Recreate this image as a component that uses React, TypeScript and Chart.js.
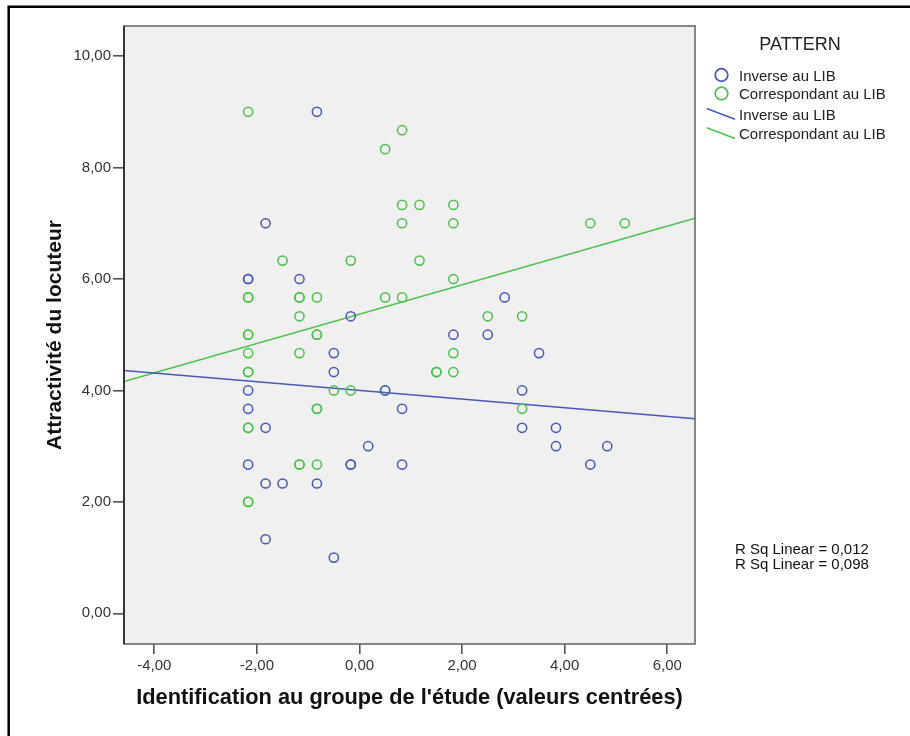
import React, { useEffect, useRef } from 'react';
import { Chart, registerables } from 'chart.js';

Chart.register(...registerables);

// ---- data ----
const inverseX = [
  -0.83, -1.83, -2.17, -2.17, -1.17, -0.17, 2.83, 1.83, 2.5, -0.5, 3.5, -0.5,
  -2.17, 0.5, 3.17, -2.17, 0.83, -1.83, 3.17, 3.83, 0.17, 3.83, 4.83, -2.17,
  -0.17, -0.17, 0.83, 4.5, -1.83, -1.5, -0.83, -1.83, -0.5,
];
const inverseY = [
  9.0, 7.0, 6.0, 6.0, 6.0, 5.33, 5.67, 5.0, 5.0, 4.67, 4.67, 4.33,
  4.0, 4.0, 4.0, 3.67, 3.67, 3.33, 3.33, 3.33, 3.0, 3.0, 3.0, 2.67,
  2.67, 2.67, 2.67, 2.67, 2.33, 2.33, 2.33, 1.33, 1.0,
];
const correspondantX = [
  -2.17, 0.83, 0.5, 0.83, 1.17, 1.83, 0.83, 1.83, 4.5, 5.17, -1.5, -0.17,
  1.17, 1.83, -2.17, -2.17, -1.17, -1.17, -0.83, 0.5, 0.83, -1.17, 2.5, 3.17,
  -2.17, -2.17, -0.83, -0.83, -2.17, -1.17, 1.83, -2.17, -2.17, 1.5, 1.5, 1.83,
  -0.5, -0.17, 0.5, -0.83, -0.83, 3.17, -2.17, -2.17, -1.17, -1.17, -0.83, -2.17,
  -2.17,
];
const correspondantY = [
  9.0, 8.67, 8.33, 7.33, 7.33, 7.33, 7.0, 7.0, 7.0, 7.0, 6.33, 6.33,
  6.33, 6.0, 5.67, 5.67, 5.67, 5.67, 5.67, 5.67, 5.67, 5.33, 5.33, 5.33,
  5.0, 5.0, 5.0, 5.0, 4.67, 4.67, 4.67, 4.33, 4.33, 4.33, 4.33, 4.33,
  4.0, 4.0, 4.0, 3.67, 3.67, 3.67, 3.33, 3.33, 2.67, 2.67, 2.67, 2.0,
  2.0,
];
// fit lines: values at the two ends of the x axis
const fitX = [-4.59, 6.54];
const fitInverseY = [4.36, 3.49];
const fitCorrespondantY = [4.16, 7.09];

const xTicks = [-4, -2, 0, 2, 4, 6];
const yTicks = [0, 2, 4, 6, 8, 10];

const legendTitle = 'PATTERN';
const legendLabels = ['Inverse au LIB', 'Correspondant au LIB'];
const rSquared = ['0,012', '0,098'];
const xTitle = "Identification au groupe de l'étude (valeurs centrées)";
const yTitle = 'Attractivité du locuteur';

const BLUE = 'rgb(72, 88, 182)';
const GREEN = 'rgb(76, 192, 76)';
const FONT = '"Liberation Sans", Arial, sans-serif';

const fmt = (v: number) => v.toFixed(2).replace('.', ',');

const decorPlugin = {
  id: 'decor',
  beforeDatasetsDraw(chart: any) {
    const { ctx, chartArea: a } = chart;
    ctx.save();
    ctx.fillStyle = '#F0F0F0';
    ctx.fillRect(a.left, a.top, a.right - a.left, a.bottom - a.top);
    ctx.restore();
  },
  afterDraw(chart: any) {
    const { ctx, chartArea: a } = chart;
    ctx.save();
    // plot border
    ctx.strokeStyle = '#6a6a6a';
    ctx.lineWidth = 1.6;
    ctx.strokeRect(a.left, a.top, a.right - a.left, a.bottom - a.top);
    ctx.strokeStyle = '#222';
    ctx.beginPath();
    ctx.moveTo(a.left, a.top);
    ctx.lineTo(a.left, a.bottom);
    ctx.stroke();

    // outer frame
    ctx.strokeStyle = '#000';
    ctx.lineWidth = 2.5;
    ctx.beginPath();
    ctx.moveTo(8.7, 740);
    ctx.lineTo(8.7, 6.7);
    ctx.lineTo(914, 6.7);
    ctx.stroke();

    // legend
    ctx.fillStyle = '#222';
    ctx.textBaseline = 'middle';
    ctx.textAlign = 'center';
    ctx.font = `18px ${FONT}`;
    ctx.fillText(legendTitle, 800, 45);

    ctx.textAlign = 'left';
    ctx.font = `15px ${FONT}`;
    const circles = [
      { c: BLUE, y: 75 },
      { c: GREEN, y: 93.5 },
    ];
    circles.forEach((it, i) => {
      ctx.strokeStyle = it.c;
      ctx.lineWidth = 1.7;
      ctx.beginPath();
      ctx.arc(721.5, it.y, 6.3, 0, Math.PI * 2);
      ctx.stroke();
      ctx.fillStyle = '#222';
      ctx.fillText(legendLabels[i], 739, it.y + 1.5);
    });
    const lines = [
      { c: BLUE, y: 108.5 },
      { c: GREEN, y: 127.7 },
    ];
    lines.forEach((it, i) => {
      ctx.strokeStyle = it.c;
      ctx.lineWidth = 1.5;
      ctx.beginPath();
      ctx.moveTo(706.7, it.y);
      ctx.lineTo(735, it.y + 10.8);
      ctx.stroke();
      ctx.fillStyle = '#222';
      ctx.fillText(legendLabels[i], 739, it.y + 7.5);
    });

    // R squared
    ctx.fillStyle = '#111';
    ctx.font = `15px ${FONT}`;
    rSquared.forEach((r, i) => {
      ctx.fillText(`R Sq Linear = ${r}`, 735, 550 + i * 14.5);
    });
    ctx.restore();
  },
};

export default function App() {
  const ref = useRef<HTMLCanvasElement>(null);
  useEffect(() => {
    const canvas = ref.current;
    if (!canvas) return;
    const chart = new Chart(canvas, {
      type: 'scatter',
      data: {
        datasets: [
          {
            label: legendLabels[0],
            data: inverseX.map((x, i) => ({ x, y: inverseY[i] })),
            borderColor: BLUE,
            backgroundColor: 'transparent',
            pointRadius: 4.6,
            pointBorderWidth: 1.5,
            showLine: false,
          },
          {
            label: legendLabels[1],
            data: correspondantX.map((x, i) => ({ x, y: correspondantY[i] })),
            borderColor: GREEN,
            backgroundColor: 'transparent',
            pointRadius: 4.6,
            pointBorderWidth: 1.5,
            showLine: false,
          },
          {
            label: legendLabels[0] + ' fit',
            data: fitX.map((x, i) => ({ x, y: fitInverseY[i] })),
            borderColor: BLUE,
            backgroundColor: BLUE,
            borderWidth: 1.5,
            pointRadius: 0,
            showLine: true,
          },
          {
            label: legendLabels[1] + ' fit',
            data: fitX.map((x, i) => ({ x, y: fitCorrespondantY[i] })),
            borderColor: GREEN,
            backgroundColor: GREEN,
            borderWidth: 1.5,
            pointRadius: 0,
            showLine: true,
          },
        ],
      },
      options: {
        responsive: false,
        animation: false,
        events: [],
        layout: { padding: { left: 0, top: 26, right: 215, bottom: 0 } },
        plugins: { legend: { display: false }, tooltip: { enabled: false } },
        scales: {
          x: {
            type: 'linear',
            min: fitX[0],
            max: fitX[1],
            afterBuildTicks: (s: any) => {
              s.ticks = xTicks.map((v) => ({ value: v }));
            },
            afterFit: (s: any) => {
              s.height = 92;
            },
            ticks: {
              callback: (v: any) => fmt(Number(v)),
              color: '#333',
              font: { family: FONT, size: 15 },
              padding: 3,
              maxRotation: 0,
            },
            grid: {
              drawOnChartArea: false,
              drawTicks: true,
              tickLength: 10,
              color: '#555',
              lineWidth: 1.6,
            },
            border: { display: false },
            title: {
              display: true,
              text: xTitle,
              color: '#111',
              font: { family: FONT, size: 21.8, weight: 'bold' },
              padding: { top: 0, bottom: 25 },
            },
          },
          y: {
            type: 'linear',
            min: -0.55,
            max: 10.54,
            afterBuildTicks: (s: any) => {
              s.ticks = yTicks.map((v) => ({ value: v }));
            },
            afterFit: (s: any) => {
              s.width = 124;
            },
            ticks: {
              callback: (v: any) => fmt(Number(v)),
              color: '#333',
              font: { family: FONT, size: 15 },
              padding: 2,
            },
            grid: {
              drawOnChartArea: false,
              drawTicks: true,
              tickLength: 11,
              color: '#555',
              lineWidth: 1.6,
            },
            border: { display: false },
            title: {
              display: true,
              text: yTitle,
              color: '#111',
              font: { family: FONT, size: 21, weight: 'bold' },
              padding: { top: 42.4, bottom: 0 },
            },
          },
        },
      },
      plugins: [decorPlugin],
    } as any);
    return () => chart.destroy();
  }, []);
  return (
    <div style={{ position: 'absolute', left: 0, top: 0, width: 910, height: 736, background: '#fff' }}>
      <canvas ref={ref} width={910} height={736} style={{ display: 'block' }} />
    </div>
  );
}
